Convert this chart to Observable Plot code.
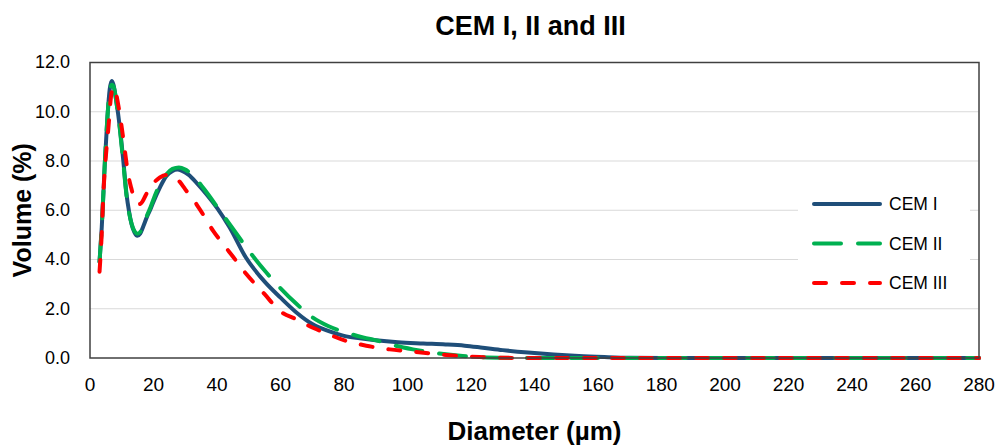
<!DOCTYPE html>
<html>
<head>
<meta charset="utf-8">
<script src="https://cdn.jsdelivr.net/npm/d3@7"></script>
<script src="https://cdn.jsdelivr.net/npm/@observablehq/plot@0.6"></script>
<style>
  html, body { margin: 0; padding: 0; background: #fff; }
  #chart { width: 998px; height: 446px; }
</style>
</head>
<body>
<div id="chart"></div>
<script>
const title = "CEM I, II and III";
const xLabel = "Diameter (µm)";
const yLabel = "Volume (%)";
const seriesNames = ["CEM I", "CEM II", "CEM III"];
const seriesColors = ["#1f4e79", "#00b050", "#ff0000"];
const seriesDash = [null, "27,17", "12,16"];
const xTicks = [0, 20, 40, 60, 80, 100, 120, 140, 160, 180, 200, 220, 240, 260, 280];
const yTicks = [0, 2, 4, 6, 8, 10, 12];

const cem1X = [3,3.7,4.7,5.5,6.2,6.8,7.4,8.2,9.4,10.5,11.5,12.3,13.1,14,14.9,15.8,16.8,18,18.9,20,22,24,26,27.5,29,31,34,37,40,44,49,55,60,65,70,75,80,85,90,97,105,112,118,123,130,138,146,154,162,170,180,200,220,240,260,280];
const cem1Y = [3.9,5.3,8.0,9.8,10.9,11.25,11.1,10.5,9.36,8.0,6.65,5.95,5.43,5.1,4.96,5.05,5.35,5.75,6.0,6.35,6.92,7.38,7.6,7.65,7.6,7.45,7.05,6.6,6.1,5.3,4.1,3.1,2.45,1.85,1.38,1.1,0.9,0.8,0.72,0.64,0.59,0.55,0.5,0.43,0.32,0.22,0.14,0.08,0.04,0.01,0,0,0,0,0,0];

const cem2X = [3,3.7,4.7,5.5,6.2,6.9,7.5,8.3,9.4,10.5,11.5,12.3,13.1,14,15,16,17,18,19,20,22,24,26,28,30,32.5,36,40.9,45,49.3,55,59.8,65,70.2,75,80.7,86,91,94.4,101.7,110,117.4,125,135,150,160,180,200,220,240,260,280];
const cem2Y = [3.9,5.3,8.0,9.8,10.85,11.1,11.0,10.4,9.3,7.9,6.6,5.9,5.45,5.15,5.05,5.15,5.4,5.8,6.1,6.45,7.05,7.45,7.68,7.74,7.65,7.4,6.85,5.98,5.25,4.48,3.55,2.86,2.2,1.64,1.3,1.03,0.84,0.69,0.56,0.35,0.18,0.08,0.02,0,0,0,0,0,0,0,0,0];

const cem3X = [3,3.6,4.2,5,5.8,6.6,7.3,8.1,9,10,11,12,13,14.2,15,15.7,16.5,17.5,18.9,20,22,24,25.7,27,28.3,30,33.5,36,38.8,42,45,49.3,55,59.8,65,70.2,75,80.7,87,94.4,101.7,112.2,122.7,130,140,160,180,200,220,240,260,280];
const cem3Y = [3.5,4.8,6.65,8.2,9.36,10.6,11.0,10.8,10.2,9.36,8.4,7.47,6.9,6.38,6.28,6.25,6.35,6.6,6.92,7.1,7.33,7.43,7.42,7.32,7.15,6.85,6.25,5.75,5.16,4.62,4.12,3.4,2.59,1.91,1.57,1.23,0.97,0.69,0.5,0.35,0.26,0.12,0.04,0.01,0,0,0,0,0,0,0,0];

const seriesX = [cem1X, cem2X, cem3X];
const seriesY = [cem1Y, cem2Y, cem3Y];

const data = [];
seriesNames.forEach((name, i) => {
  seriesX[i].forEach((x, j) => data.push({series: name, x, y: seriesY[i][j]}));
});

const mL = 89.5, mR = 19.5, mT = 62, mB = 88.5;

const lineMarks = seriesNames.map((name, i) =>
  Plot.line(data.filter(d => d.series === name), {
    x: "x", y: "y",
    stroke: seriesColors[i],
    strokeWidth: 4,
    strokeDasharray: seriesDash[i] || undefined,
    strokeLinecap: "round",
    strokeLinejoin: "round",
    curve: "monotone-x"
  })
);

const chart = Plot.plot({
  width: 998,
  height: 446,
  marginLeft: mL,
  marginRight: mR,
  marginTop: mT,
  marginBottom: mB,
  style: { fontFamily: "Liberation Sans, Arial, sans-serif", color: "#000", background: "#fff", overflow: "visible" },
  x: { domain: [0, 280], ticks: xTicks },
  y: { domain: [0, 12], ticks: yTicks },
  marks: [
    Plot.ruleY(yTicks.filter(t => t > 0 && t < 12), { stroke: "#d9d9d9", strokeWidth: 1, strokeOpacity: 1 }),
    Plot.axisX({ ticks: xTicks, tickSize: 0, tickPadding: 19, fontSize: 19, label: null, tickFormat: d3.format("d") }),
    Plot.axisY({ ticks: yTicks, tickSize: 0, tickPadding: 20, fontSize: 18, label: null, tickFormat: d3.format(".1f") }),
    ...lineMarks,
    Plot.frame({ stroke: "#404040", strokeWidth: 1.5 }),
    Plot.text([title], { frameAnchor: "top", dx: -4, dy: -36, fontSize: 27, fontWeight: "bold", text: d => d, lineAnchor: "middle", textAnchor: "middle" }),
    Plot.text([xLabel], { frameAnchor: "bottom", dy: 74, fontSize: 26, fontWeight: "bold", text: d => d, lineAnchor: "middle", textAnchor: "middle" }),
    Plot.text([yLabel], { frameAnchor: "left", dx: -67.5, rotate: -90, fontSize: 25, fontWeight: "bold", text: d => d, lineAnchor: "middle", textAnchor: "middle" })
  ]
});

document.getElementById("chart").appendChild(chart);

// Legend inside plot area (white box), built from the series arrays
const svg = d3.select(chart);
const lg = svg.append("g").attr("class", "legend");
lg.append("rect").attr("x", 798).attr("y", 172).attr("width", 172).attr("height", 130).attr("fill", "#fff");
seriesNames.forEach((name, i) => {
  const cy = 204 + i * 39.5;
  lg.append("line")
    .attr("x1", 814).attr("x2", 880).attr("y1", cy).attr("y2", cy)
    .attr("stroke", seriesColors[i]).attr("stroke-width", 4)
    .attr("stroke-linecap", "round")
    .attr("stroke-dasharray", seriesDash[i]);
  lg.append("text")
    .attr("x", 889).attr("y", cy).attr("dy", "0.35em")
    .attr("text-anchor", "start")
    .attr("font-size", 17.5).attr("font-family", "Liberation Sans, Arial, sans-serif")
    .attr("fill", "#000")
    .text(name);
});
</script>
</body>
</html>
